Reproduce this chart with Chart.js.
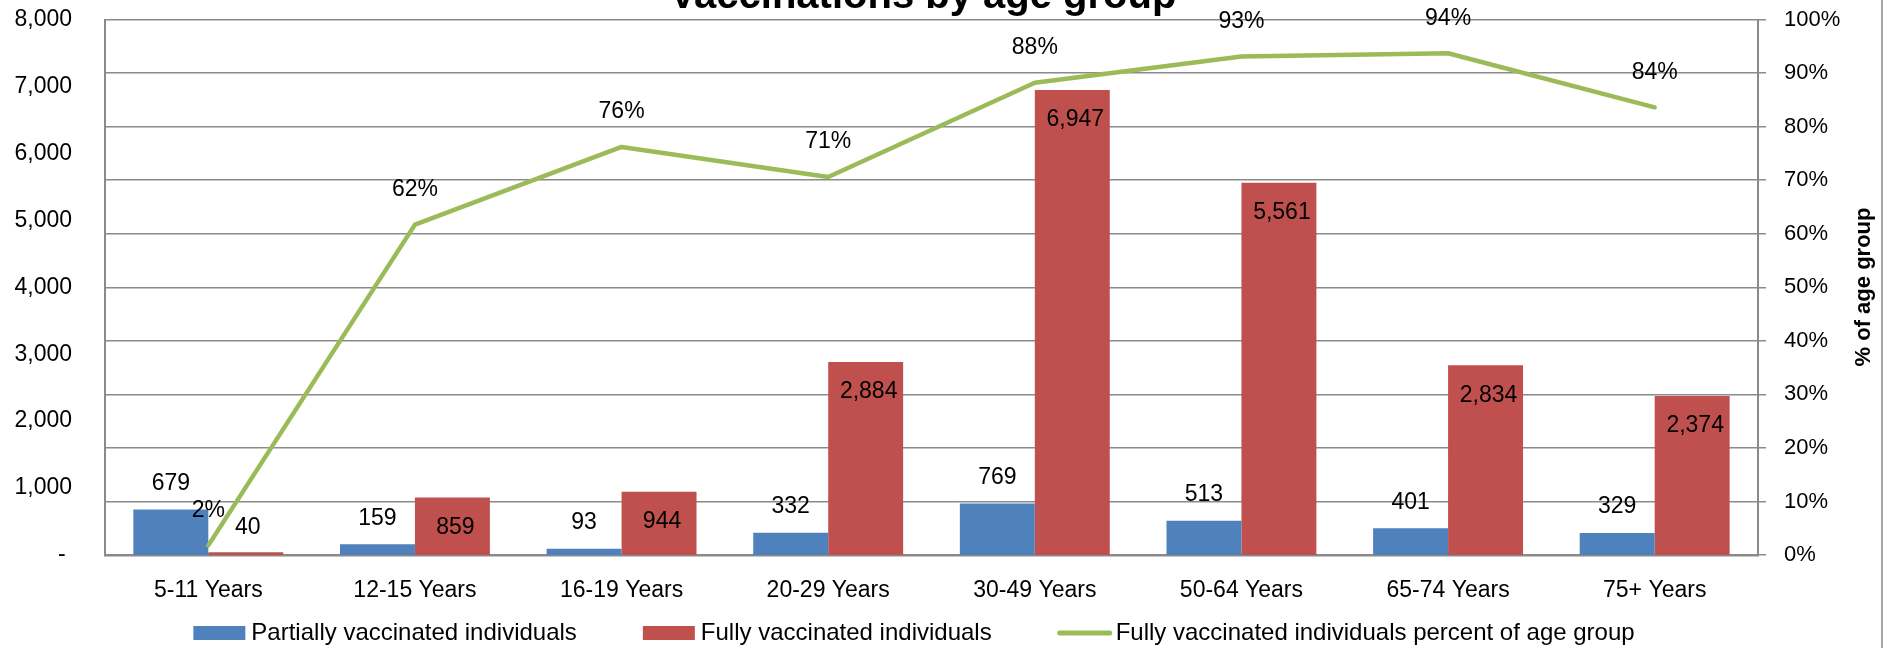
<!DOCTYPE html>
<html>
<head>
<meta charset="utf-8">
<script src="https://cdn.jsdelivr.net/npm/chart.js@4.4.1/dist/chart.umd.min.js"></script>
<style>
  html, body { margin: 0; padding: 0; background: #ffffff; }
  #wrap { width: 1892px; height: 648px; position: relative; }
</style>
</head>
<body>
<div id="wrap"><canvas id="c" width="1892" height="648"></canvas></div>
<script>
// ---- data ----
const categories = ['5-11 Years', '12-15 Years', '16-19 Years', '20-29 Years', '30-49 Years', '50-64 Years', '65-74 Years', '75+ Years'];
const partiallyVaccinated = [679, 159, 93, 332, 769, 513, 401, 329];
const fullyVaccinated = [40, 859, 944, 2884, 6947, 5561, 2834, 2374];
const fullyPercent = [0.018, 0.617, 0.762, 0.706, 0.882, 0.931, 0.937, 0.836];
const leftTicks = [0, 1000, 2000, 3000, 4000, 5000, 6000, 7000, 8000];
const rightTicks = [0, 0.1, 0.2, 0.3, 0.4, 0.5, 0.6, 0.7, 0.8, 0.9, 1.0];
const seriesNames = ['Partially vaccinated individuals', 'Fully vaccinated individuals', 'Fully vaccinated individuals percent of age group'];
const titleText = 'Vaccinations by age group';
const rightAxisTitle = '% of age group';

const FONT = "'Liberation Sans', Arial, sans-serif";
const BLUE = '#4F81BD', RED = '#C0504D', GREEN = '#9BBB59', GRID = '#8a8a8a';

const fmt = v => v.toLocaleString('en-US');

const labelsPlugin = {
  id: 'valueLabels',
  afterDatasetsDraw(chart) {
    const ctx = chart.ctx;
    ctx.save();
    ctx.font = '23px ' + FONT;
    ctx.fillStyle = '#000';
    ctx.textAlign = 'center';
    ctx.textBaseline = 'middle';
    chart.data.datasets.forEach((ds, di) => {
      const meta = chart.getDatasetMeta(di);
      meta.data.forEach((el, i) => {
        const v = ds.data[i];
        if (ds.type === 'line') {
          ctx.fillText(Math.round(v * 100) + '%', el.x, el.y - 35);
        } else if (di === 0) {
          ctx.fillText(fmt(v), el.x, el.y - 26);
        } else {
          const h = el.base - el.y;
          if (h < 45) ctx.fillText(fmt(v), el.x + 2, el.y - 25);
          else ctx.fillText(fmt(v), el.x + 3, el.y + 30);
        }
      });
    });
    ctx.restore();
  }
};

const decorPlugin = {
  id: 'decor',
  afterDraw(chart) {
    const ctx = chart.ctx;
    ctx.save();
    // title (partially cut at top)
    ctx.font = 'bold 40px ' + FONT;
    ctx.fillStyle = '#000';
    ctx.textAlign = 'center';
    ctx.textBaseline = 'alphabetic';
    ctx.fillText(titleText, 923, 8);
    // right axis title
    ctx.save();
    ctx.translate(1864, 287);
    ctx.rotate(-Math.PI / 2);
    ctx.font = 'bold 22px ' + FONT;
    ctx.textBaseline = 'middle';
    ctx.fillText(rightAxisTitle, 0, 0);
    ctx.restore();
    // outer border on right
    ctx.strokeStyle = GRID;
    ctx.lineWidth = 1.5;
    ctx.beginPath();
    ctx.moveTo(1882, 0);
    ctx.lineTo(1882, 648);
    ctx.stroke();
    // legend
    ctx.font = '24px ' + FONT;
    ctx.textAlign = 'left';
    ctx.textBaseline = 'middle';
    const colors = [BLUE, RED, GREEN];
    const boxW = 52, gap = 6, itemGap = 66, cy = 633;
    const widths = seriesNames.map(t => ctx.measureText(t).width);
    const total = widths.reduce((a, w) => a + boxW + gap + w, 0) + itemGap * 2;
    let x = 914 - total / 2;
    seriesNames.forEach((t, i) => {
      if (i < 2) {
        ctx.fillStyle = colors[i];
        ctx.fillRect(x, cy - 7, boxW, 14);
      } else {
        ctx.strokeStyle = colors[i];
        ctx.lineWidth = 5;
        ctx.lineCap = 'round';
        ctx.beginPath();
        ctx.moveTo(x + 2, cy);
        ctx.lineTo(x + boxW, cy);
        ctx.stroke();
      }
      ctx.fillStyle = '#000';
      ctx.fillText(t, x + boxW + gap, cy);
      x += boxW + gap + widths[i] + itemGap;
    });
    ctx.restore();
  }
};

const zeroPad = s => { s.paddingTop = 0; s.paddingBottom = 0; s.paddingLeft = 0; s.paddingRight = 0; };

new Chart(document.getElementById('c'), {
  data: {
    labels: categories,
    datasets: [
      { type: 'bar', label: seriesNames[0], data: partiallyVaccinated, backgroundColor: BLUE, yAxisID: 'y', order: 1,
        categoryPercentage: 0.7255, barPercentage: 1.0 },
      { type: 'bar', label: seriesNames[1], data: fullyVaccinated, backgroundColor: RED, yAxisID: 'y', order: 1,
        categoryPercentage: 0.7255, barPercentage: 1.0 },
      { type: 'line', label: seriesNames[2], data: fullyPercent, borderColor: GREEN, backgroundColor: GREEN, borderWidth: 4.5,
        pointRadius: 0, tension: 0, yAxisID: 'y2', order: 0, borderJoinStyle: 'round', borderCapStyle: 'round' }
    ]
  },
  options: {
    responsive: false,
    animation: false,
    devicePixelRatio: 1,
    layout: { padding: { top: 19.5, left: 0, right: 0, bottom: 0 } },
    plugins: { legend: { display: false }, title: { display: false }, tooltip: { enabled: false } },
    scales: {
      x: {
        grid: { display: false, drawTicks: false },
        border: { display: true, color: GRID, width: 2.5 },
        ticks: { color: '#000', font: { size: 23, family: FONT }, padding: 22, maxRotation: 0, autoSkip: false },
        afterFit: s => { s.height = 93; zeroPad(s); }
      },
      y: {
        position: 'left',
        min: 0, max: 8000,
        afterBuildTicks: s => { s.ticks = leftTicks.map(v => ({ value: v })); },
        grid: { display: false, drawTicks: false },
        border: { display: true, color: GRID, width: 2 },
        ticks: { color: '#000', font: { size: 23, family: FONT }, padding: 33,
          callback: v => v === 0 ? '- ' : fmt(v) },
        afterFit: s => { s.width = 105; zeroPad(s); }
      },
      y2: {
        position: 'right',
        min: 0, max: 1,
        afterBuildTicks: s => { s.ticks = rightTicks.map(v => ({ value: v })); },
        grid: { display: true, color: GRID, lineWidth: 1.5, drawOnChartArea: true, drawTicks: true, tickLength: 8 },
        border: { display: true, color: GRID, width: 2 },
        ticks: { color: '#000', font: { size: 22, family: FONT }, padding: 18,
          callback: v => Math.round(v * 100) + '%' },
        afterFit: s => { s.width = 134; zeroPad(s); }
      }
    }
  },
  plugins: [labelsPlugin, decorPlugin]
});
</script>
</body>
</html>
